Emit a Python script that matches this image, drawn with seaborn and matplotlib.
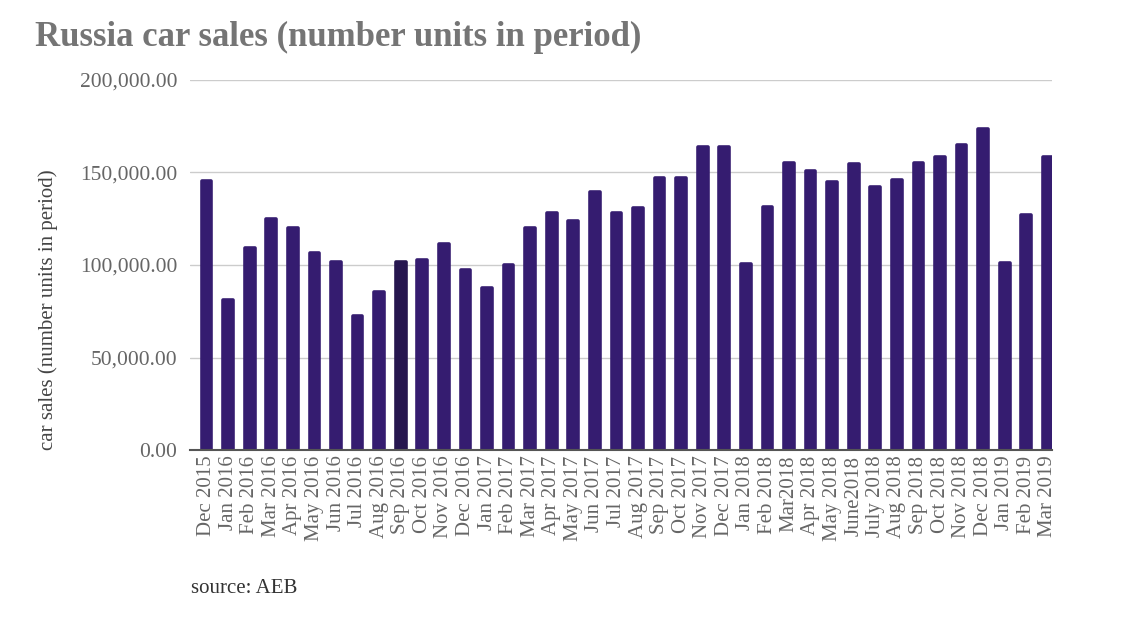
import matplotlib
matplotlib.use("Agg")
import matplotlib.pyplot as plt
import seaborn as sns
import pandas as pd
from matplotlib.ticker import FuncFormatter

# Datos
months = [
    "Dec 2015",
    "Jan 2016", "Feb 2016", "Mar 2016", "Apr 2016", "May 2016", "Jun 2016",
    "Jul 2016", "Aug 2016", "Sep 2016", "Oct 2016", "Nov 2016", "Dec 2016",
    "Jan 2017", "Feb 2017", "Mar 2017", "Apr 2017", "May 2017", "Jun 2017",
    "Jul 2017", "Aug 2017", "Sep 2017", "Oct 2017", "Nov 2017", "Dec 2017",
    "Jan 2018", "Feb 2018", "Mar2018", "Apr 2018", "May 2018", "June2018",
    "July 2018", "Aug 2018", "Sep 2018", "Oct 2018", "Nov 2018", "Dec 2018",
    "Jan 2019", "Feb 2019", "Mar 2019",
]
sales = [
    145500,
    81000, 109300, 124700, 119800, 106700, 101800,
    72400, 85600, 101800, 102700, 111300, 97300,
    87700, 100000, 119800, 128300, 123800, 139600,
    127900, 131000, 146800, 146800, 163900, 163900,
    100500, 131500, 155300, 150800, 145000, 154400,
    142300, 145900, 155300, 158200, 164900, 173300,
    101300, 127000, 158200,
]
highlight = "Sep 2016"
y_ticks = [0, 50000, 100000, 150000, 200000]

df = pd.DataFrame({"month": months, "sales": sales})

bar_color = "#351c70"
dark_color = "#26164f"
palette = {m: (dark_color if m == highlight else bar_color) for m in months}

sns.set_theme(style="white")
plt.rcParams["font.family"] = ["Liberation Serif", "DejaVu Serif"]

fig = plt.figure(figsize=(11.39, 6.19), dpi=100)
ax = fig.add_axes([0.1668, 0.273, 0.7568, 0.5978])

sns.barplot(data=df, x="month", y="sales", hue="month", palette=palette,
            legend=False, width=0.45, ax=ax, saturation=1)

# Esquinas redondeadas en las barras
for p in ax.patches:
    p.set_edgecolor(p.get_facecolor())
    p.set_linewidth(2.6)
    p.set_joinstyle("round")

ax.set_ylim(0, 200000)
ax.set_xlim(-0.77, len(months) - 0.81)
ax.set_yticks(y_ticks)
ax.yaxis.set_major_formatter(FuncFormatter(lambda v, _: f"{v:,.2f}"))
ax.grid(axis="y", color="#cccccc", linewidth=1)
ax.set_axisbelow(True)

for s in ["top", "right", "left"]:
    ax.spines[s].set_visible(False)
ax.spines["bottom"].set_color("#555555")
ax.spines["bottom"].set_linewidth(1.5)

ax.tick_params(axis="y", length=0, pad=9, labelsize=15.5, labelcolor="#666666")
ax.tick_params(axis="x", length=0, pad=4, labelsize=15, labelcolor="#666666",
               rotation=90)

ax.set_xlabel("")
ax.set_ylabel("car sales (number units in period)", fontsize=15, color="#444444")
ax.yaxis.set_label_coords(-0.153, 0.38)

fig.text(0.031, 0.94, "Russia car sales (number units in period)",
         fontsize=25, fontweight="bold", color="#757575", va="center")
fig.text(0.168, 0.05, "source: AEB", fontsize=15, color="#333333", va="center")

fig.savefig("out.png", dpi=100)
